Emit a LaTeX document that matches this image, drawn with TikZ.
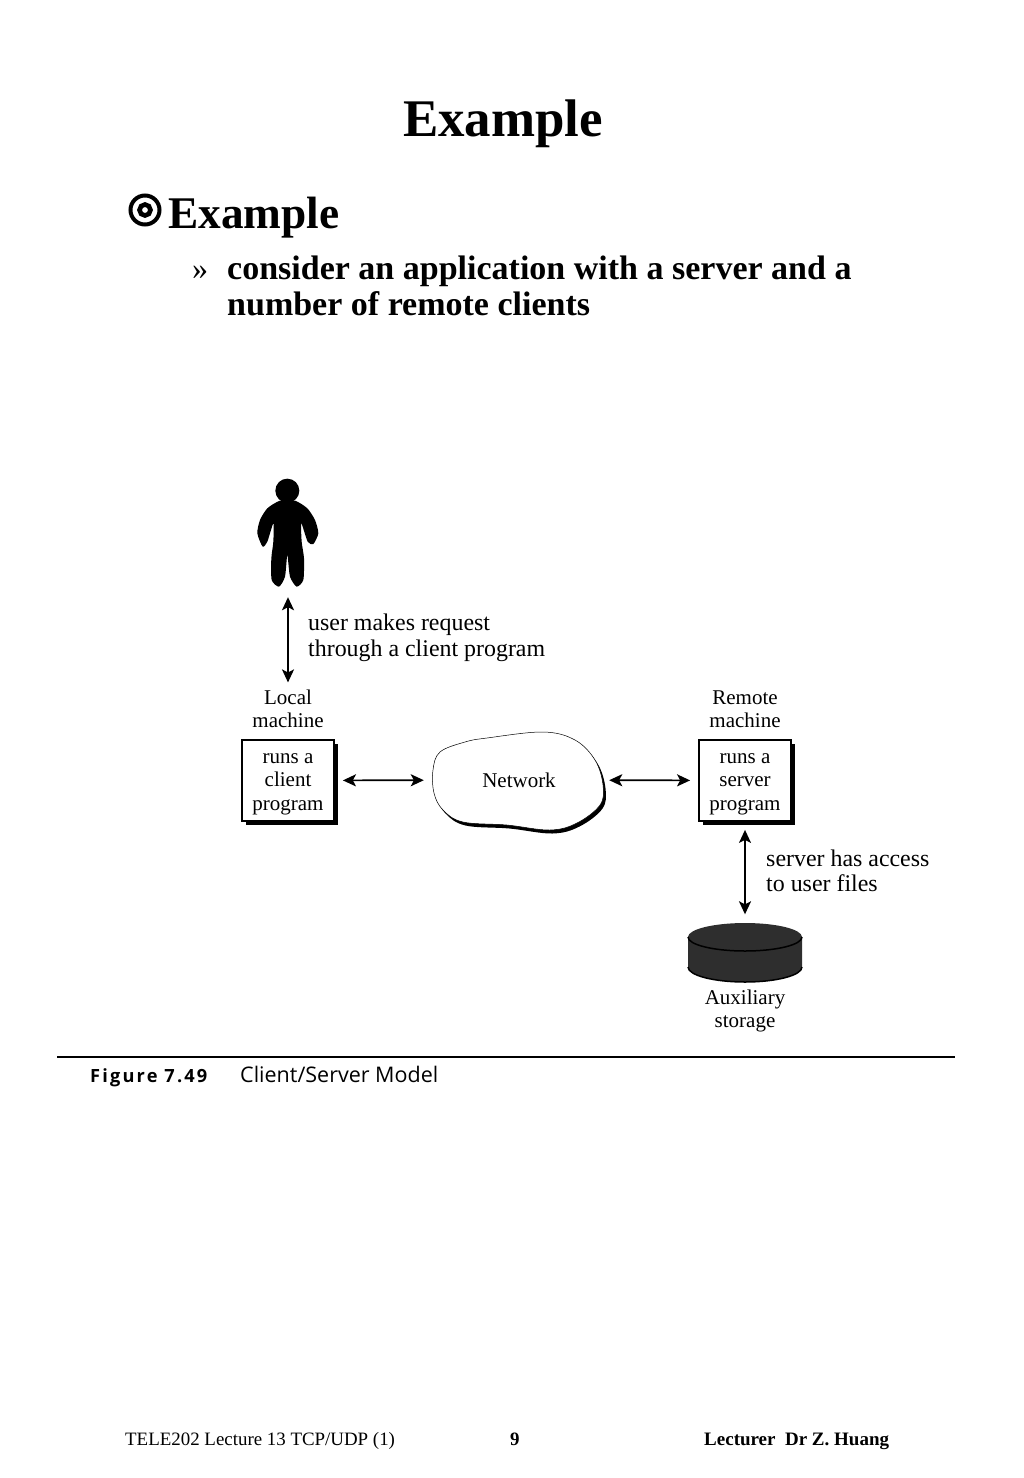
\documentclass[tikz,border=0pt]{standalone}
\usepackage{fontspec}
\setmainfont{Liberation Serif}
\newfontfamily\capfont{Open Sans}
\newfontfamily\figfont[LetterSpace=12]{Open Sans}
\usetikzlibrary{arrows.meta, positioning, shadows}
\newcommand{\pxfont}[2]{\fontsize{#1}{#2}\selectfont}
\newcommand{\cloudpath}{plot[smooth cycle, tension=0.6] coordinates {(433,770) (440,752) (465,742) (487,738) (543,732) (575,740) (595,760) (603,785) (600,805) (577,823) (550,830) (507,825) (463,822) (443,810) (434,793)}}
\tikzstyle{slidetext}=[inner sep=0pt, align=left, anchor=base west]
\tikzstyle{host}=[rectangle, draw=black, line width=1.8pt, fill=white, minimum width=92pt, minimum height=81pt, inner sep=0pt, align=center, font=\pxfont{21}{23.5}, text height=64.5pt, drop shadow={shadow xshift=4pt, shadow yshift=-4pt, fill=black, opacity=1}]
\tikzstyle{figlabel}=[inner sep=0pt, align=center, font=\pxfont{21}{23.5}]
\tikzstyle{remark}=[inner sep=0pt, align=left, anchor=west, font=\pxfont{23.9}{25.5}]
\tikzstyle{link}=[{Stealth[length=13pt, width=12pt, inset=3pt]}-{Stealth[length=13pt, width=12pt, inset=3pt]}, line width=1.7pt]
\begin{document}
\begin{tikzpicture}[x=1pt, y=-1pt]
    \useasboundingbox (0,0) rectangle (1024,1478);

    \node[slidetext, font=\pxfont{52.9}{56}\bfseries] (title) at (403,136) {Example};
    \node[circle, draw, line width=4pt, minimum size=29pt, inner sep=0pt] (bullet) at (145,210) {};
    \node[circle, draw, line width=4.6pt, minimum size=11pt, inner sep=0pt] (bulletin) at (bullet) {};
    \node[slidetext, font=\pxfont{45.3}{48}\bfseries] (head) at (168,228) {Example};
    \node[slidetext, font=\pxfont{32}{36}] (chev) at (192,279) {»};
    \node[slidetext, font=\pxfont{34}{36}\bfseries, anchor=north west] (body) at (227,256) {consider an application with a server and a\\number of remote clients};

    % user
    \begin{scope}[shift={(230,470)}, x=0.3333pt, y=-0.3333pt]
        \fill (172,62) circle (36);
        \fill plot[smooth cycle, tension=0.4] coordinates {(150,92) (112,115) (90,150) (82,190) (98,230) (112,215) (130,160) (130,215) (124,265) (125,330) (147,350) (165,320) (172,255) (180,320) (200,350) (220,330) (222,265) (215,215) (214,160) (233,215) (250,222) (265,190) (255,150) (232,115) (195,92)};
    \end{scope}
    \node[minimum width=62pt, minimum height=108pt, inner sep=0pt] (user) at (288,533) {};

    \node[host] (client) at (288,780.5) {runs a\\client\\program};
    \node[host] (server) at (745,780.5) {runs a\\server\\program};
    \node[figlabel] (localtext) [above=11pt of client] {Local\\machine};
    \node[figlabel] (remotetext) [above=11pt of server] {Remote\\machine};

    % network
    \fill[black, shift={(2.5,3.5)}] \cloudpath;
    \filldraw[fill=white, draw=black, line width=0.5pt] \cloudpath;
    \node[minimum width=172pt, minimum height=95pt, inner sep=0pt, font=\pxfont{21}{23.5}] (network) at (519,780) {Network};

    % storage
    \fill[black!82] (688,937) -- (688,967) arc[start angle=180, end angle=0, x radius=57, y radius=15] -- (802,937) arc[start angle=0, end angle=-180, x radius=57, y radius=14] -- cycle;
    \draw[black, line width=1.5pt] (688,937) arc[start angle=180, end angle=0, x radius=57, y radius=14];
    \draw[black, line width=1.5pt] (688,967) arc[start angle=180, end angle=0, x radius=57, y radius=15];
    \node[minimum width=114pt, minimum height=59pt, inner sep=0pt] (disk) at (745,953) {};
    \node[figlabel] (disktext) [below=7pt of disk] {Auxiliary\\storage};

    \draw[link, shorten <=10pt, shorten >=7pt] (user) -- (localtext);
    \draw[link, shorten <=8pt, shorten >=9pt] (client) -- (network);
    \draw[link, shorten <=4pt, shorten >=8pt] (network) -- (server);
    \draw[link, shorten <=8pt, shorten >=9pt] (server) -- (disk);

    \node[remark] (usertext) at (308,638) {user makes request\\through a client program};
    \node[remark] (accesstext) at (766,871) {server has access\\to user files};

    % caption
    \coordinate (ruleleft) at (57,1057);
    \coordinate (ruleright) at (955,1057);
    \draw[line width=2pt] (ruleleft) -- (ruleright);
    \node[slidetext, font=\figfont\pxfont{18.2}{20}\bfseries] (fignum) at (90,1082) {Figure 7.49};
    \node[slidetext, font=\capfont\pxfont{21.5}{22}] (figname) at (240,1082) {Client/Server Model};

    % footer
    \node[slidetext, font=\pxfont{18.9}{20}] (footl) at (125,1445) {TELE202 Lecture 13 TCP/UDP (1)};
    \node[slidetext, font=\pxfont{18.9}{20}\bfseries] (footm) at (510,1445) {9};
    \node[slidetext, font=\pxfont{19}{20}\bfseries] (footr) at (704,1445) {Lecturer\ \ Dr Z. Huang};
\end{tikzpicture}
\end{document}
